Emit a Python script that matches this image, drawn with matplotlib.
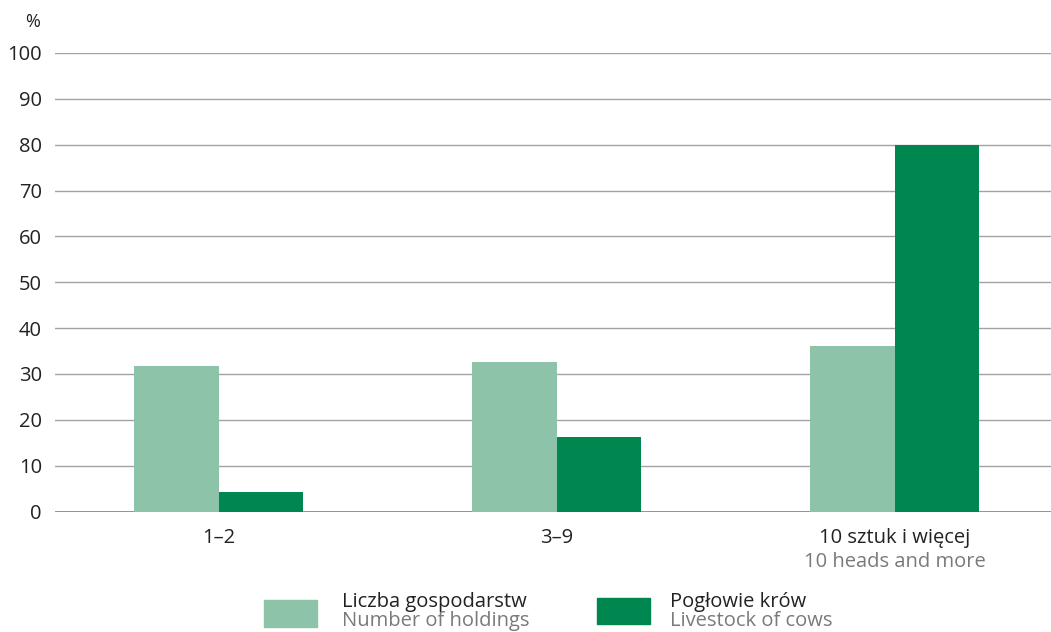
import numpy as np
import matplotlib
matplotlib.use("Agg")
import matplotlib.pyplot as plt
from matplotlib.patches import Rectangle
from matplotlib.transforms import blended_transform_factory

plt.rcParams.update({"font.family": ["Open Sans", "DejaVu Sans"], "font.size": 14.5})

categories_pl = ["1–2", "3–9", "10 sztuk i więcej"]
categories_en = ["", "", "10 heads and more"]
holdings = [31.7, 32.5, 36.1]
cows = [4.2, 16.2, 79.9]
series_pl = ["Liczba gospodarstw", "Pogłowie krów"]
series_en = ["Number of holdings", "Livestock of cows"]
yticks = list(range(0, 101, 10))

LIGHT = "#8dc3a9"
DARK = "#00864f"
GRID = "#a3a3a3"
TXT = "#222222"
SUB = "#7a7a7a"
W, H = 1051, 632

fig = plt.figure(figsize=(W / 100, H / 100), dpi=100)
ax = fig.add_axes([55 / W, 1 - 511.5 / H, 1 - 55 / W, (511.5 - 53) / H])

x = np.arange(len(categories_pl))
w = 0.25
ax.bar(x - w / 2, holdings, w, color=LIGHT, zorder=3)
ax.bar(x + w / 2, cows, w, color=DARK, zorder=3)

ax.set_xlim(-0.485, 2.462)
ax.set_ylim(0, 100)
ax.set_yticks(yticks)
for t in yticks:
    ax.axhline(t, color=GRID if t else "#8a8a8a", lw=1.0 if t else 1.3, zorder=1)
for sp in ax.spines.values():
    sp.set_visible(False)
ax.tick_params(axis="y", length=0, pad=9.5, labelsize=14.5, colors=TXT)
ax.set_xticks([])

# category labels (two-line for the last group)
tr = blended_transform_factory(ax.transData, fig.transFigure)
for i in x:
    ax.text(i, 1 - 543 / H, categories_pl[i], transform=tr, ha="center",
            va="baseline", fontsize=14.5, color=TXT)
    if categories_en[i]:
        ax.text(i, 1 - 567 / H, categories_en[i], transform=tr, ha="center",
                va="baseline", fontsize=14.5, color=SUB)

fig.text(33 / W, 1 - 22 / H, "%", ha="center", va="center", fontsize=13, color=TXT)

# legend drawn manually
for (x0, y0, x1, y1), tx, col, pl, en in [
        ((264, 600, 317, 627), 342, LIGHT, series_pl[0], series_en[0]),
        ((597, 598, 650, 624), 670, DARK, series_pl[1], series_en[1])]:
    fig.patches.append(Rectangle((x0 / W, 1 - y1 / H), (x1 - x0) / W, (y1 - y0) / H,
                                 transform=fig.transFigure, color=col))
    fig.text(tx / W, 1 - 607 / H, pl, ha="left", va="baseline", fontsize=14.5, color=TXT)
    fig.text(tx / W, 1 - 626 / H, en, ha="left", va="baseline", fontsize=14.5, color=SUB)

fig.savefig("out.png", dpi=100)
